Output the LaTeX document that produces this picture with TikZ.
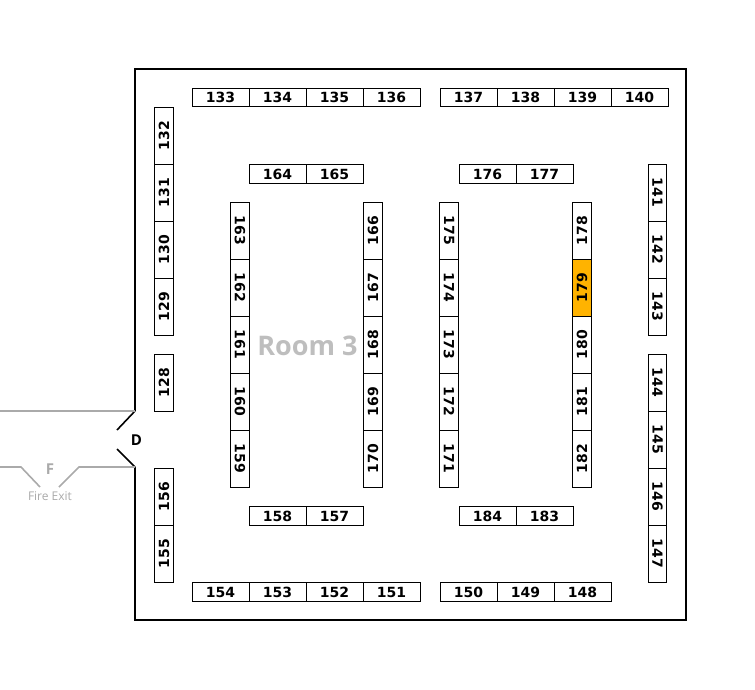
\documentclass[tikz,border=0pt]{standalone}
\usepackage{fontspec}
\newfontfamily\numfont{DejaVu Sans}
\newfontfamily\labfont{Open Sans}
\definecolor{boothorange}{RGB}{255,179,0}
\definecolor{exitgray}{RGB}{170,170,170}
\definecolor{roomgray}{RGB}{190,190,190}
\begin{document}
\begin{tikzpicture}[x=1pt,y=-1pt,
  booth/.style={draw, line width=0.8pt, minimum width=57pt, minimum height=18.5pt, inner sep=0pt,
    font=\numfont\bfseries\fontsize{14}{14}\selectfont},
  vup/.style={booth, rotate=90},
  vdown/.style={booth, rotate=-90},
  wall/.style={line width=2pt, line cap=square},
  doorline/.style={line width=1.6pt},
  exitline/.style={exitgray, line width=1.6pt}]
\useasboundingbox (0,0) rectangle (755,689);
% walls
\draw[wall] (135,411) -- (135,69) -- (686,69) -- (686,620) -- (135,620) -- (135,467);
\draw[doorline] (135,411) -- (117,430);
\draw[doorline] (117,449) -- (135,467);
\draw[exitline] (0,411) -- (135,411);
\draw[exitline] (0,467) -- (21,467) -- (40,487);
\draw[exitline] (59,487) -- (79,467) -- (135,467);
\node[font=\labfont\bfseries\fontsize{15}{15}\selectfont] (door) at (136.5,440) {D};
\node[font=\labfont\bfseries\fontsize{15}{15}\selectfont, text=exitgray] (fexit) at (50,469) {F};
\node[font=\labfont\fontsize{12}{12}\selectfont, text=exitgray] (fexitlab) at (50,496.5) {Fire Exit};
\node[font=\labfont\bfseries\fontsize{27}{27}\selectfont, text=roomgray] (room) at (307.5,346) {Room 3};
% top rows
\foreach \n/\x in {133/220.5,134/277.5,135/334.5,136/391.5,137/468.5,138/525.5,139/582.5,140/639.5}
  \node[booth] (b\n) at (\x,97.5) {\n};
\foreach \n/\x in {164/277.5,165/334.5,176/487.5,177/544.5}
  \node[booth] (b\n) at (\x,174) {\n};
\foreach \n/\x in {158/277.5,157/334.5,184/487.5,183/544.5}
  \node[booth] (b\n) at (\x,516) {\n};
\foreach \n/\x in {154/220.5,153/277.5,152/334.5,151/391.5,150/468.5,149/525.5,148/582.5}
  \node[booth] (b\n) at (\x,592) {\n};
% left wall column
\foreach \n/\y in {132/135.5,131/192.5,130/249.5,129/306.5,128/382.5,156/496.5,155/553.5}
  \node[vup] (b\n) at (164,\y) {\n};
% inner columns
\foreach \n/\y in {163/230.5,162/287.5,161/344.5,160/401.5,159/458.5}
  \node[vdown] (b\n) at (240,\y) {\n};
\foreach \n/\y in {166/230.5,167/287.5,168/344.5,169/401.5,170/458.5}
  \node[vup] (b\n) at (373,\y) {\n};
\foreach \n/\y in {175/230.5,174/287.5,173/344.5,172/401.5,171/458.5}
  \node[vdown] (b\n) at (449,\y) {\n};
\node[vup] (b178) at (582,230.5) {178};
\node[vup, fill=boothorange] (b179) at (582,287.5) {179};
\foreach \n/\y in {180/344.5,181/401.5,182/458.5}
  \node[vup] (b\n) at (582,\y) {\n};
% right column
\foreach \n/\y in {141/192.5,142/249.5,143/306.5,144/382.5,145/439.5,146/496.5,147/553.5}
  \node[vdown] (b\n) at (657.5,\y) {\n};
\end{tikzpicture}
\end{document}
